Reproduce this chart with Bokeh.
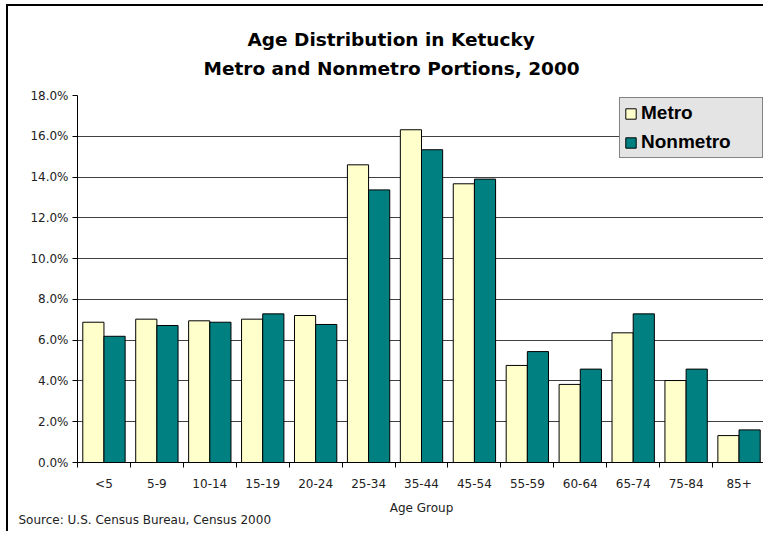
from bokeh.plotting import figure
from bokeh.models import (ColumnDataSource, Range1d, LinearAxis, FixedTicker,
                          PrintfTickFormatter, Title, Legend, LegendItem)
from bokeh.transform import dodge
from bokeh.embed import file_html
from bokeh.resources import INLINE

# ---------------- data ----------------
age_groups = ["<5", "5-9", "10-14", "15-19", "20-24", "25-34", "35-44",
              "45-54", "55-59", "60-64", "65-74", "75-84", "85+"]
metro = [6.88, 7.03, 6.95, 7.03, 7.21, 14.60, 16.32, 13.67, 4.76, 3.83, 6.36, 4.02, 1.32]
nonmetro = [6.19, 6.72, 6.88, 7.29, 6.77, 13.37, 15.34, 13.90, 5.44, 4.58, 7.29, 4.58, 1.60]
y_ticks = [0, 2, 4, 6, 8, 10, 12, 14, 16, 18]
title_lines = ["Age Distribution in Ketucky", "Metro and Nonmetro Portions, 2000"]
x_label = "Age Group"
source_note = "Source: U.S. Census Bureau, Census 2000"

# ---------------- layout constants ----------------
W, H = 757, 527
FL, FR, FT, FB = 69, 0, 89, 71
n = len(age_groups)
ymax = 18
FONT = "DejaVu Sans"

src = ColumnDataSource(dict(age=age_groups, metro=metro, nonmetro=nonmetro))

p = figure(width=W, height=H, x_range=age_groups, y_range=Range1d(0, ymax),
           output_backend="svg", toolbar_location=None, x_axis_location=None,
           min_border_left=FL, min_border_right=FR, min_border_top=FT,
           min_border_bottom=FB, background_fill_color="white",
           border_fill_color="white")
p.x_range.range_padding = 0
p.outline_line_color = None
p.styles = {"border-left": "2px solid black", "border-top": "2px solid black",
            "margin-left": "6px", "margin-top": "4px"}

r1 = p.vbar(x=dodge("age", -0.2, range=p.x_range), top="metro", width=0.4,
            source=src, fill_color="#FFFFCC", line_color="black", line_width=1)
r2 = p.vbar(x=dodge("age", 0.2, range=p.x_range), top="nonmetro", width=0.4,
            source=src, fill_color="#008080", line_color="black", line_width=1)

# y axis
yax = p.yaxis[0]
yax.ticker = FixedTicker(ticks=y_ticks)
yax.formatter = PrintfTickFormatter(format="%.1f%%")
yax.major_tick_in = 0
yax.major_tick_out = 5
yax.minor_tick_line_color = None
yax.axis_line_color = "black"
yax.major_tick_line_color = "black"
yax.major_label_standoff = 4
yax.major_label_text_font = FONT
yax.major_label_text_font_size = "12px"
yax.major_label_text_color = "#222222"

p.ygrid.ticker = FixedTicker(ticks=y_ticks)
p.ygrid.grid_line_color = "#404040"
p.ygrid.grid_line_width = 1
p.xgrid.grid_line_color = None

# x axis: labels at group centres, tick marks between groups
centers = [i + 0.5 for i in range(n)]
bounds = list(range(n + 1))
xax = LinearAxis(ticker=FixedTicker(ticks=centers, minor_ticks=bounds),
                 major_label_overrides={c: g for c, g in zip(centers, age_groups)})
xax.major_tick_line_color = None
xax.major_tick_in = 0
xax.major_tick_out = 0
xax.minor_tick_in = 0
xax.minor_tick_out = 5
xax.minor_tick_line_color = "black"
xax.axis_line_color = "black"
xax.major_label_standoff = 9
xax.major_label_text_font = FONT
xax.major_label_text_font_size = "12px"
xax.major_label_text_color = "#222222"
xax.axis_label = x_label
xax.axis_label_text_font = FONT
xax.axis_label_text_font_size = "12px"
xax.axis_label_text_font_style = "normal"
xax.axis_label_text_color = "#222222"
xax.axis_label_standoff = 7
p.add_layout(xax, "below")

# source note under the axis
p.add_layout(Title(text=source_note, align="left", offset=-59,
                   vertical_align="top",
                   text_font=FONT, text_font_size="12px",
                   text_font_style="normal", text_color="#222222",
                   standoff=-10), "below")

# two-line title (second line nearest the frame)
p.add_layout(Title(text=title_lines[1], align="left", offset=126,
                   text_font=FONT, text_font_size="18.5px",
                   text_font_style="bold", text_color="black", standoff=34),
             "above")
p.add_layout(Title(text=title_lines[0], align="left", offset=170,
                   text_font=FONT, text_font_size="18.5px",
                   text_font_style="bold", text_color="black", standoff=-22),
             "above")

legend = Legend(items=[LegendItem(label="Metro", renderers=[r1]),
                       LegendItem(label="Nonmetro", renderers=[r2])],
                location="top_right", margin=2, padding=4, spacing=7,
                glyph_width=13, glyph_height=13, label_standoff=4,
                label_text_font="Liberation Sans", label_text_font_style="bold",
                label_text_font_size="19px", label_text_color="black",
                label_width=117,
                background_fill_color="#e4e4e4", background_fill_alpha=1,
                border_line_color="#222222", border_line_width=1)
p.add_layout(legend)

open("out.html", "w").write(file_html(p, INLINE))
